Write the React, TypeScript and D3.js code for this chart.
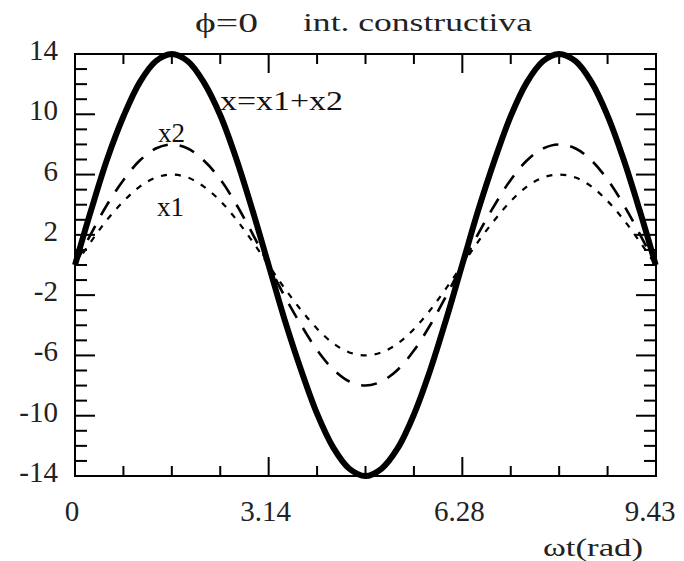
import React from "react";
import * as d3 from "d3";

const wt = [0, 0.26, 0.52, 0.79, 1.05, 1.31, 1.57, 1.83, 2.09, 2.36, 2.62, 2.88, 3.14, 3.4, 3.67, 3.93, 4.19, 4.45, 4.71, 4.97, 5.24, 5.5, 5.76, 6.02, 6.28, 6.54, 6.81, 7.07, 7.33, 7.59, 7.85, 8.12, 8.38, 8.64, 8.9, 9.16, 9.42];
const x1 = [0, 1.55, 3.0, 4.24, 5.2, 5.8, 6.0, 5.8, 5.2, 4.24, 3.0, 1.55, 0, -1.55, -3.0, -4.24, -5.2, -5.8, -6.0, -5.8, -5.2, -4.24, -3.0, -1.55, 0, 1.55, 3.0, 4.24, 5.2, 5.8, 6.0, 5.8, 5.2, 4.24, 3.0, 1.55, 0];
const x2 = [0, 2.07, 4.0, 5.66, 6.93, 7.73, 8.0, 7.73, 6.93, 5.66, 4.0, 2.07, 0, -2.07, -4.0, -5.66, -6.93, -7.73, -8.0, -7.73, -6.93, -5.66, -4.0, -2.07, 0, 2.07, 4.0, 5.66, 6.93, 7.73, 8.0, 7.73, 6.93, 5.66, 4.0, 2.07, 0];
const xs = [0, 3.62, 7.0, 9.9, 12.12, 13.52, 14.0, 13.52, 12.12, 9.9, 7.0, 3.62, 0, -3.62, -7.0, -9.9, -12.12, -13.52, -14.0, -13.52, -12.12, -9.9, -7.0, -3.62, 0, 3.62, 7.0, 9.9, 12.12, 13.52, 14.0, 13.52, 12.12, 9.9, 7.0, 3.62, 0];

const xTickVals = [0, 3.1416, 6.2832, 9.4248];
const xTickLabels = ["0", "3.14", "6.28", "9.43"];
const yTickVals = [14, 10, 6, 2, -2, -6, -10, -14];

const W = 684, H = 561;
const L = 75, R = 656, T = 54, B = 476;

export default function App() {
  const x = d3.scaleLinear().domain([0, 3 * Math.PI]).range([L, R]);
  const y = d3.scaleLinear().domain([-14, 14]).range([B, T]);
  const line = (vals: number[]) =>
    d3.line<number>().x((_, i) => x(wt[i])).y((v) => y(v)).curve(d3.curveCatmullRom)(vals) || "";

  const xMinor = d3.range(0, 13).map((i) => (i * Math.PI) / 4);
  const yMinor = d3.range(-14, 15);
  const font = "'Liberation Serif', 'Times New Roman', serif";

  return (
    <svg width={W} height={H} style={{ position: "absolute", left: 0, top: 0, background: "#fff" }}>
      <defs>
        <clipPath id="pc">
          <rect x={L - 3} y={T - 4} width={R - L + 6} height={B - T + 8} />
        </clipPath>
      </defs>
      {/* ticks */}
      {xMinor.map((v, i) => {
        const major = i % 4 === 0;
        const len = major ? 19 : 10;
        return (
          <g key={"xt" + i}>
            <line x1={x(v)} x2={x(v)} y1={B} y2={B - len} stroke="#000" strokeWidth={2} />
            <line x1={x(v)} x2={x(v)} y1={T} y2={T + len} stroke="#000" strokeWidth={2} />
          </g>
        );
      })}
      {yMinor.map((v) => {
        const major = (v + 14) % 4 === 0;
        const len = major ? 20 : 12;
        return (
          <g key={"yt" + v}>
            <line x1={L} x2={L + len} y1={y(v)} y2={y(v)} stroke="#000" strokeWidth={2} />
            <line x1={R} x2={R - len} y1={y(v)} y2={y(v)} stroke="#000" strokeWidth={2} />
          </g>
        );
      })}
      <rect x={L} y={T} width={R - L} height={B - T} fill="none" stroke="#000" strokeWidth={2} />
      {/* curves */}
      <g clipPath="url(#pc)" fill="none" stroke="#000">
        <path d={line(x1)} strokeWidth={2.2} strokeDasharray="6,8" />
        <path d={line(x2)} strokeWidth={2.6} strokeDasharray="16,12" />
        <path d={line(xs)} strokeWidth={6} />
      </g>
      {/* tick labels */}
      {yTickVals.map((v) => (
        <text key={"yl" + v} x={58} y={y(v) - 4} textAnchor="end" dominantBaseline="central" fontFamily={font} fontSize={29} fill="#222">
          {v}
        </text>
      ))}
      {xTickVals.map((v, i) => (
        <text key={"xl" + i} x={i === 3 ? x(v) - 6 : x(v) - 3} y={521} textAnchor="middle" fontFamily={font} fontSize={29} fill="#222">
          {xTickLabels[i]}
        </text>
      ))}
      <text x={543} y={556} fontFamily={font} fontSize={26} textLength={100} lengthAdjust="spacingAndGlyphs" fill="#222">
        ωt(rad)
      </text>
      {/* title */}
      <text x={195} y={32} fontFamily={font} fontSize={27} textLength={63} lengthAdjust="spacingAndGlyphs" fill="#222">
        ϕ=0
      </text>
      <text x={303} y={31} fontFamily={font} fontSize={26} textLength={229} lengthAdjust="spacingAndGlyphs" fill="#222">
        int. constructiva
      </text>
      {/* curve labels */}
      <text x={220} y={110} fontFamily={font} fontSize={27} textLength={123} lengthAdjust="spacingAndGlyphs" fill="#111">
        x=x1+x2
      </text>
      <text x={158} y={142} fontFamily={font} fontSize={27} fill="#111">x2</text>
      <text x={157} y={216} fontFamily={font} fontSize={27} fill="#111">x1</text>
    </svg>
  );
}
